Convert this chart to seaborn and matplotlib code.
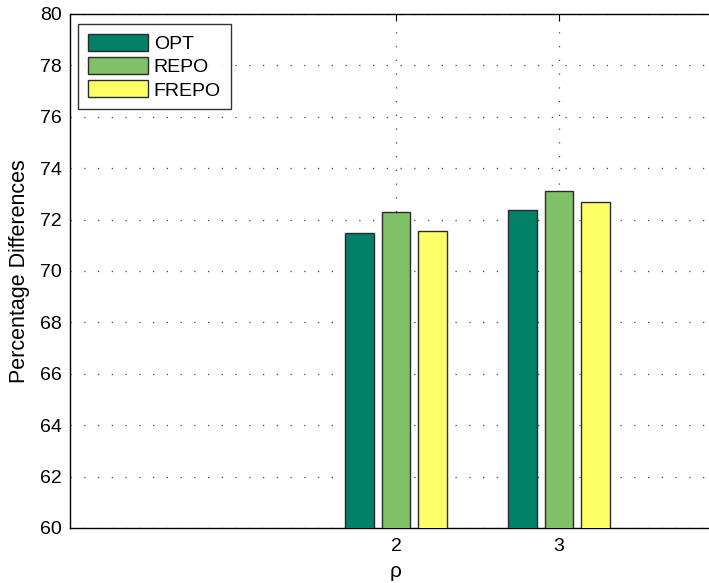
import matplotlib
matplotlib.use("Agg")
import matplotlib.pyplot as plt
import seaborn as sns
import pandas as pd

rho = [2, 3]
opt = [71.47, 72.36]
repo = [72.28, 73.11]
frepo = [71.54, 72.67]
methods = ["OPT", "REPO", "FREPO"]
colors = ["#008066", "#80C066", "#FFFF66"]

df = pd.DataFrame({
    "rho": rho * 3,
    "value": opt + repo + frepo,
    "method": [m for m in methods for _ in rho],
})

sns.set_style("white")
plt.rcParams["font.family"] = ["Liberation Sans", "DejaVu Sans"]
plt.rcParams["text.color"] = "black"
plt.rcParams["axes.labelcolor"] = "black"
plt.rcParams["xtick.color"] = "black"
plt.rcParams["ytick.color"] = "black"

fig = plt.figure(figsize=(7.09, 5.83), dpi=100)
ax = fig.add_axes([70 / 709, 55 / 583, 652 / 709, 514 / 583])

sns.barplot(data=df, x="rho", y="value", hue="method", hue_order=methods,
            palette=colors, native_scale=True, width=0.667, gap=0.21,
            edgecolor="#2a2a2a", linewidth=1.0, saturation=1,
            errorbar=None, ax=ax, zorder=3)

ax.set_xlim(0, 4)
ax.set_ylim(60, 80)
ax.set_xticks(rho)
ax.set_xticklabels([str(r) for r in rho])
ax.set_yticks(range(60, 81, 2))
ax.grid(True, linestyle=(0, (1, 10)), color="#444444", linewidth=0.9, zorder=0)
ax.set_axisbelow(True)
ax.tick_params(axis="both", direction="in", length=5, labelsize=14,
               top=True, right=True, color="black", labelcolor="black")
ax.tick_params(axis="x", pad=7)
ax.tick_params(axis="y", pad=6)
for s in ax.spines.values():
    s.set_color("black")
    s.set_linewidth(1.0)

ax.set_xlabel("ρ", fontsize=15, labelpad=5)
ax.set_ylabel("Percentage Differences", fontsize=15.5, labelpad=7)

leg = ax.legend(loc="upper left", bbox_to_anchor=(0.0123, 0.9805), fontsize=14,
                handlelength=3.1, handleheight=0.95, handletextpad=0.3,
                labelspacing=0.22, borderpad=0.5, borderaxespad=0.0,
                frameon=True, fancybox=False, edgecolor="black", title=None)
leg.get_frame().set_linewidth(1.0)

fig.savefig("out.png", dpi=100)
